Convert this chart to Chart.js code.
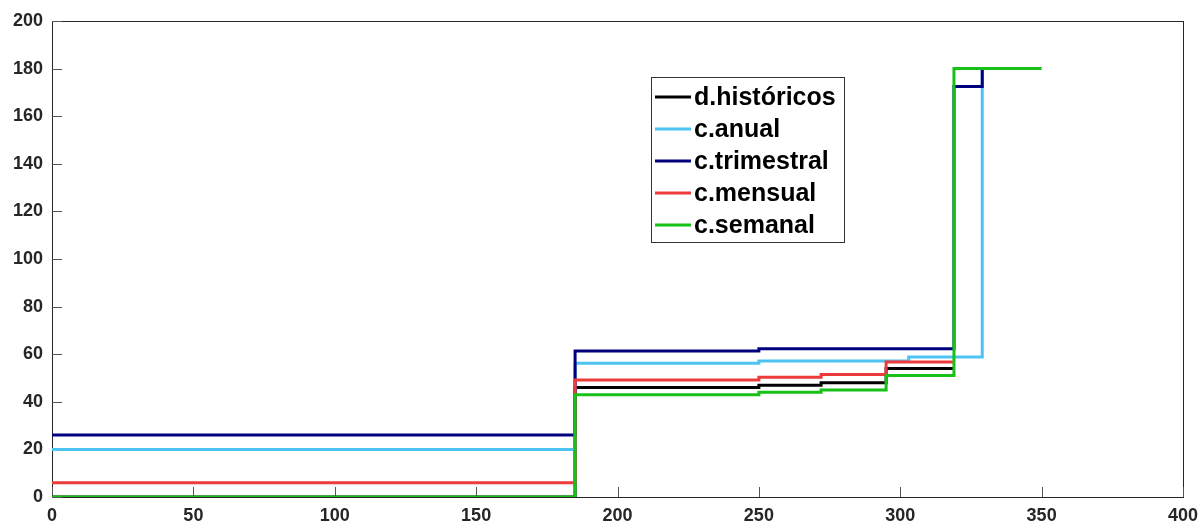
<!DOCTYPE html>
<html>
<head>
<meta charset="utf-8">
<script src="https://cdn.jsdelivr.net/npm/chart.js@4/dist/chart.umd.min.js"></script>
<style>
  html, body { margin: 0; padding: 0; background: #fff; }
  #wrap { width: 1202px; height: 524px; }
</style>
</head>
<body>
<div id="wrap"><canvas id="chart" width="1202" height="524"></canvas></div>
<script>
// Datos (escalones: cada valor empieza en su x)
const seriesNames = ['d.históricos', 'c.anual', 'c.trimestral', 'c.mensual', 'c.semanal'];
const seriesColors = ['#000000', '#4CC3F0', '#00007F', '#ED3B3B', '#17C117'];

const historicosX = [0, 185, 250, 272, 295, 319];
const historicosY = [0, 46, 47, 48, 54, 54];

const anualX = [0, 185, 250, 303, 329];
const anualY = [20, 56.2, 57.1, 58.8, 180];

const trimestralX = [0, 185, 250, 319, 329];
const trimestralY = [26, 61.3, 62.3, 172.5, 180];

const mensualX = [0, 185, 250, 272, 295, 319];
const mensualY = [6, 49.2, 50.3, 51.5, 56.7, 56.7];

const semanalX = [0, 185, 250, 272, 295, 319, 350];
const semanalY = [0, 43, 44, 45, 51, 180, 180];

const xTickValues = [0, 50, 100, 150, 200, 250, 300, 350, 400];
const yTickValues = [0, 20, 40, 60, 80, 100, 120, 140, 160, 180, 200];

const xs = [historicosX, anualX, trimestralX, mensualX, semanalX];
const ys = [historicosY, anualY, trimestralY, mensualY, semanalY];

// la última serie se pinta encima (como en MATLAB)
const datasets = seriesNames.map((name, i) => ({
    label: name,
    data: xs[i].map((x, j) => ({ x: x, y: ys[i][j] })),
    borderColor: seriesColors[i],
    backgroundColor: seriesColors[i],
    borderWidth: 3,
    pointRadius: 0,
    stepped: 'before',
    showLine: true,
    fill: false,
    order: seriesNames.length - i
}));

const axisColor = '#262626';
const tickFont = { family: 'Liberation Sans, Arial, sans-serif', size: 18, weight: 'bold' };

// Marco y marcas hacia dentro
const framePlugin = {
    id: 'frame',
    beforeDatasetsDraw(chart) {
        const { ctx, chartArea: a, scales } = chart;
        ctx.save();
        ctx.strokeStyle = axisColor;
        ctx.lineWidth = 1;
        ctx.strokeRect(a.left + 0.5, a.top + 0.5, a.right - a.left, a.bottom - a.top);
        ctx.strokeStyle = '#555';
        ctx.beginPath();
        yTickValues.forEach(v => {
            const y = Math.round(scales.y.getPixelForValue(v)) + 0.5;
            ctx.moveTo(a.left, y); ctx.lineTo(a.left + 10, y);
        });
        xTickValues.forEach(v => {
            const x = Math.round(scales.x.getPixelForValue(v)) + 0.5;
            ctx.moveTo(x, a.bottom); ctx.lineTo(x, a.bottom - 10);
        });
        ctx.stroke();
        ctx.restore();
    }
};

// Leyenda dentro del área
const legendPlugin = {
    id: 'boxLegend',
    afterDatasetsDraw(chart) {
        const { ctx } = chart;
        const left = 651, top = 77, w = 193, h = 165;
        ctx.save();
        ctx.fillStyle = '#fff';
        ctx.fillRect(left, top, w, h);
        ctx.strokeStyle = '#333';
        ctx.lineWidth = 1;
        ctx.strokeRect(left + 0.5, top + 0.5, w, h);
        ctx.font = 'bold 25px Liberation Sans, Arial, sans-serif';
        ctx.textBaseline = 'middle';
        chart.data.datasets.forEach((ds, i) => {
            const y = 97 + i * 32;
            ctx.strokeStyle = ds.borderColor;
            ctx.lineWidth = 3;
            ctx.beginPath();
            ctx.moveTo(655, y); ctx.lineTo(691, y);
            ctx.stroke();
            ctx.fillStyle = '#000';
            ctx.fillText(ds.label, 694, y + 1);
        });
        ctx.restore();
    }
};

new Chart(document.getElementById('chart'), {
    type: 'scatter',
    data: { datasets },
    options: {
        responsive: false,
        animation: false,
        layout: { padding: { top: 21, right: 19, left: 0, bottom: 0 } },
        plugins: {
            legend: { display: false },
            tooltip: { enabled: false }
        },
        scales: {
            x: {
                type: 'linear',
                min: 0, max: 400,
                afterBuildTicks: s => { s.ticks = xTickValues.map(v => ({ value: v })); },
                afterFit: s => { s.height = 27; s.paddingLeft = 0; s.paddingRight = 0; },
                grid: { display: false, drawTicks: false },
                border: { display: false },
                ticks: { color: axisColor, font: tickFont, padding: 8, maxRotation: 0 }
            },
            y: {
                type: 'linear',
                min: 0, max: 200,
                afterBuildTicks: s => { s.ticks = yTickValues.map(v => ({ value: v })); },
                afterFit: s => { s.width = 52; s.paddingTop = 0; s.paddingBottom = 0; },
                grid: { display: false, drawTicks: false },
                border: { display: false },
                ticks: { color: axisColor, font: tickFont, padding: 9 }
            }
        }
    },
    plugins: [framePlugin, legendPlugin]
});
</script>
</body>
</html>
